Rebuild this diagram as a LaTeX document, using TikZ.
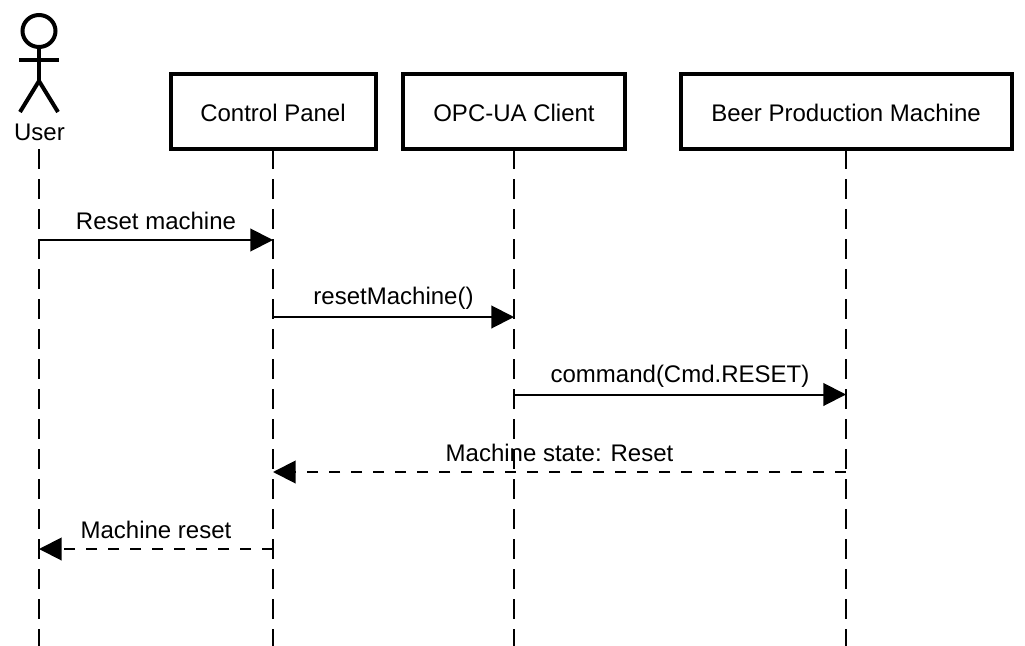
\documentclass[tikz,border=0pt]{standalone}
\usepackage{fontspec}
\setmainfont{Liberation Sans}
\usetikzlibrary{arrows.meta}

\tikzset{
	party/.style={draw, line width=3pt, outer sep=0pt, minimum height=55.9pt, text height=14.5pt, text depth=0pt, font=\fontsize{18}{20}\selectfont},
	tag/.style={font=\fontsize{18}{20}\selectfont, inner sep=0pt},
	lifeline/.style={line width=1.8pt, dash pattern=on 15pt off 7.5pt},
	call/.style={line width=1.5pt, -{Triangle[length=17pt, width=17pt]}},
	reply/.style={call, dash pattern=on 8pt off 8.5pt},
	stick/.style={line width=3pt}
}

\begin{document}
\begin{tikzpicture}[x=.75pt, y=-.75pt]
	\useasboundingbox (0,0) rectangle (1025,646);
	% the user
	\draw[stick] (39,31) ellipse (16.5 and 16);
	\coordinate (neck) at (39,47);
	\coordinate (hip) at (39,81);
	\coordinate (handL) at (19,60);
	\coordinate (handR) at (59,60);
	\coordinate (footL) at (20,112);
	\coordinate (footR) at (58,112);
	\draw[stick] (neck) -- (hip);
	\draw[stick] (handL) -- (handR);
	\draw[stick] (footL) -- (hip) -- (footR);
	\node[tag] (user) at (39.5,132.5) {User};

	% the three boxes
	\node[party, minimum width=153.75pt] (panel) at (273,111.75) {Control Panel};
	\node[party, minimum width=166.5pt] (client) at (514,111.75) {OPC-UA Client};
	\node[party, minimum width=248.25pt] (machine) at (846,111.75) {Beer Production Machine};

	% lifelines
	\coordinate (userTop) at (39,149);
	\coordinate (userEnd) at (39,646);
	\coordinate (panelEnd) at (273,646);
	\coordinate (clientEnd) at (514,646);
	\coordinate (machineEnd) at (846,646);
	\draw[lifeline] (userTop) -- (userEnd);
	\draw[lifeline] (panel.south) -- (panelEnd);
	\draw[lifeline] (client.south) -- (clientEnd);
	\draw[lifeline] (machine.south) -- (machineEnd);

	% messages
	\coordinate (u1) at (39,240);
	\coordinate (p1) at (273,240);
	\coordinate (p2) at (273,317);
	\coordinate (c2) at (514,317);
	\coordinate (c3) at (514,394.5);
	\coordinate (m3) at (846,394.5);
	\coordinate (m4) at (846,472);
	\coordinate (p4) at (273,472);
	\coordinate (p5) at (273,549);
	\coordinate (u5) at (39,549);
	\draw[call] (u1) -- (p1) node[tag, midway, yshift=14pt] (msgreset) {Reset machine};
	\draw[call] (p2) -- (c2) node[tag, midway, yshift=14pt] (msgcall) {resetMachine()};
	\draw[call] (c3) -- (m3) node[tag, midway, yshift=14pt] (msgcmd) {command(Cmd.RESET)};
	\draw[reply] (m4) -- (p4) node[tag, midway, yshift=14pt] (msgstate) {Machine state: Reset};
	\draw[reply] (p5) -- (u5) node[tag, midway, yshift=14pt] (msgdone) {Machine reset};
\end{tikzpicture}
\end{document}
